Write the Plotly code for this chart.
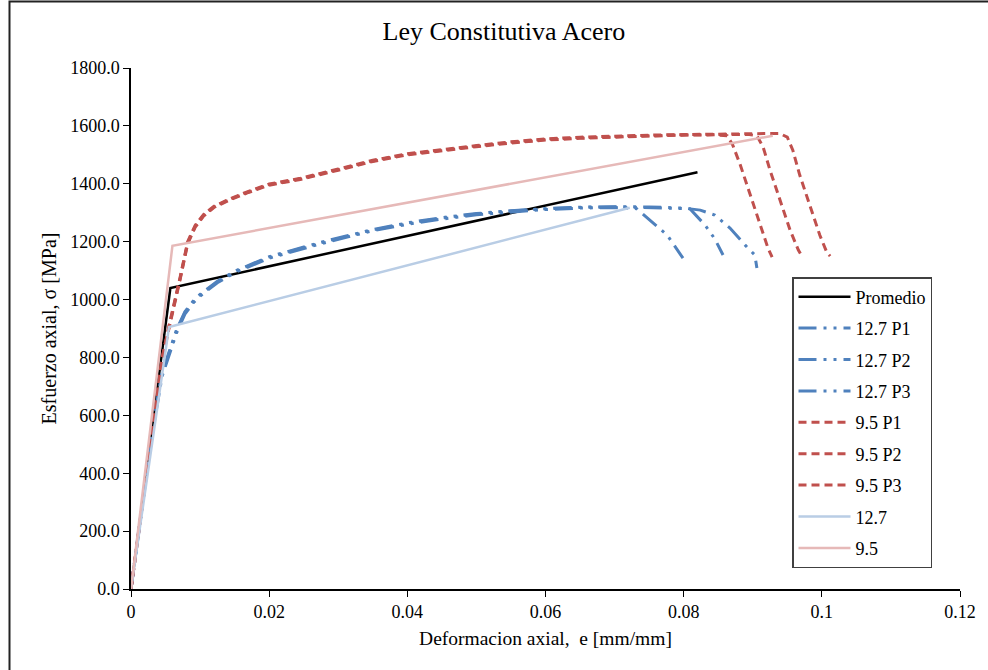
import plotly.graph_objects as go

# ---- Tensile test curves (strain in mm/mm, stress in MPa) ----
# Bilinear average / design laws
prom_e = [0.0, 0.0057, 0.0820]
prom_s = [0.0, 1040.0, 1440.0]

law127_e = [0.0, 0.0055, 0.0722]
law127_s = [0.0, 905.0, 1317.0]

law95_e = [0.0, 0.0060, 0.0929]
law95_s = [0.0, 1186.0, 1566.0]

# 12.7 mm bars
b1_e = [0.0, 0.0015, 0.003, 0.0045, 0.0056, 0.0066, 0.0078, 0.009, 0.010, 0.0125, 0.0153,
        0.020, 0.0275, 0.035, 0.040, 0.045, 0.050, 0.055, 0.060, 0.065, 0.070, 0.0732,
        0.0751, 0.0776, 0.0799]
b1_s = [0.0, 262.0, 525.0, 735.0, 812.0, 885.0, 950.0, 988.0, 1012.0, 1058.0, 1096.0,
        1143.0, 1193.0, 1238.0, 1260.0, 1278.0, 1293.0, 1303.0, 1311.0, 1316.0, 1318.0, 1314.0,
        1275.0, 1223.0, 1143.0]

b2_e = [0.0, 0.0015, 0.003, 0.0045, 0.0056, 0.0066, 0.0078, 0.009, 0.010, 0.0125, 0.0153,
        0.020, 0.0275, 0.035, 0.040, 0.045, 0.050, 0.055, 0.060, 0.065, 0.070, 0.075,
        0.0809, 0.0831, 0.0845, 0.0857]
b2_s = [0.0, 268.0, 535.0, 742.0, 818.0, 892.0, 955.0, 992.0, 1016.0, 1061.0, 1099.0,
        1146.0, 1196.0, 1240.0, 1263.0, 1281.0, 1296.0, 1306.0, 1313.0, 1318.0, 1320.0, 1318.0,
        1314.0, 1257.0, 1210.0, 1154.0]

b3_e = [0.0, 0.0015, 0.003, 0.0045, 0.0056, 0.0066, 0.0078, 0.009, 0.010, 0.0125, 0.0153,
        0.020, 0.0275, 0.035, 0.040, 0.045, 0.050, 0.055, 0.060, 0.065, 0.070, 0.075,
        0.0800, 0.0824, 0.0845, 0.0867, 0.0889, 0.0903, 0.0906]
b3_s = [0.0, 275.0, 545.0, 748.0, 822.0, 896.0, 958.0, 995.0, 1018.0, 1063.0, 1101.0,
        1148.0, 1198.0, 1242.0, 1265.0, 1283.0, 1297.0, 1307.0, 1314.0, 1319.0, 1321.0, 1320.0,
        1316.0, 1309.0, 1292.0, 1247.0, 1188.0, 1154.0, 1109.0]

# 9.5 mm bars
r1_e = [0.0, 0.0015, 0.003, 0.0045, 0.0055, 0.0062, 0.0071, 0.0082, 0.0093, 0.0105, 0.012,
        0.0143, 0.017, 0.020, 0.0245, 0.030, 0.035, 0.040, 0.045, 0.050, 0.055, 0.060,
        0.065, 0.070, 0.075, 0.080, 0.0845, 0.0863, 0.0871, 0.0882, 0.0896, 0.0911,
        0.0922, 0.0928]
r1_s = [0.0, 262.0, 528.0, 790.0, 900.0, 972.0, 1068.0, 1192.0, 1250.0, 1288.0, 1318.0,
        1344.0, 1370.0, 1395.0, 1415.0, 1447.0, 1477.0, 1500.0, 1515.0, 1528.0, 1541.0, 1551.0,
        1557.0, 1562.0, 1565.0, 1568.0, 1569.0, 1566.0, 1534.0, 1465.0, 1361.0, 1257.0,
        1178.0, 1147.0]

r2_e = [0.0, 0.0015, 0.003, 0.0045, 0.0055, 0.0062, 0.0071, 0.0082, 0.0093, 0.0105, 0.012,
        0.0143, 0.017, 0.020, 0.0245, 0.030, 0.035, 0.040, 0.045, 0.050, 0.055, 0.060,
        0.065, 0.070, 0.075, 0.080, 0.085, 0.0895, 0.0906, 0.0915, 0.0925, 0.0940,
        0.0954, 0.0966, 0.0971]
r2_s = [0.0, 265.0, 532.0, 795.0, 905.0, 976.0, 1072.0, 1196.0, 1254.0, 1291.0, 1320.0,
        1346.0, 1372.0, 1397.0, 1417.0, 1449.0, 1479.0, 1502.0, 1517.0, 1530.0, 1543.0, 1553.0,
        1559.0, 1563.0, 1566.0, 1569.0, 1570.0, 1570.0, 1566.0, 1527.0, 1447.0, 1344.0,
        1240.0, 1171.0, 1150.0]

r3_e = [0.0, 0.0015, 0.003, 0.0045, 0.0055, 0.0062, 0.0071, 0.0082, 0.0093, 0.0105, 0.012,
        0.0143, 0.017, 0.020, 0.0245, 0.030, 0.035, 0.040, 0.045, 0.050, 0.055, 0.060,
        0.065, 0.070, 0.075, 0.080, 0.085, 0.090, 0.0939, 0.0950, 0.0958, 0.0968, 0.0983,
        0.0997, 0.1007, 0.1012]
r3_s = [0.0, 268.0, 536.0, 798.0, 910.0, 980.0, 1076.0, 1200.0, 1257.0, 1294.0, 1322.0,
        1348.0, 1374.0, 1399.0, 1419.0, 1451.0, 1481.0, 1504.0, 1519.0, 1532.0, 1545.0, 1555.0,
        1561.0, 1565.0, 1568.0, 1570.0, 1571.0, 1572.0, 1574.0, 1561.0, 1516.0, 1430.0, 1326.0,
        1223.0, 1164.0, 1150.0]

x_ticks = [0, 0.02, 0.04, 0.06, 0.08, 0.1, 0.12]
y_ticks = [0, 200, 400, 600, 800, 1000, 1200, 1400, 1600, 1800]

BLUE = "#4F81BD"
RED = "#C0504D"
LIGHT_BLUE = "#B9CDE5"
LIGHT_RED = "#E6B9B8"
SERIF = "Liberation Serif, Times New Roman, serif"

blue_dash = "18px,7px,3px,7px,3px,7px"
red_dash = "8px,5px"

fig = go.Figure()

series = [
    ("Promedio", prom_e, prom_s, dict(color="black", width=2.5)),
    ("12.7 P1", b1_e, b1_s, dict(color=BLUE, width=3, dash=blue_dash)),
    ("12.7 P2", b2_e, b2_s, dict(color=BLUE, width=3, dash=blue_dash)),
    ("12.7 P3", b3_e, b3_s, dict(color=BLUE, width=3, dash=blue_dash)),
    ("9.5 P1", r1_e, r1_s, dict(color=RED, width=3, dash=red_dash)),
    ("9.5 P2", r2_e, r2_s, dict(color=RED, width=3, dash=red_dash)),
    ("9.5 P3", r3_e, r3_s, dict(color=RED, width=3, dash=red_dash)),
    ("12.7", law127_e, law127_s, dict(color=LIGHT_BLUE, width=2.5)),
    ("9.5", law95_e, law95_s, dict(color=LIGHT_RED, width=2.5)),
]

for i, (name, xe, ys, line) in enumerate(series):
    fig.add_trace(go.Scatter(x=xe, y=ys, name=name, mode="lines", line=line,
                             legendgroup=f"g{i}"))

W, H = 988, 670
ML, MR, MT, MB = 131, 28, 68, 81
pw, ph = W - ML - MR, H - MT - MB

def px_x(p):
    return (p - ML) / pw

def px_y(p):
    return (H - MB - p) / ph

fig.update_layout(
    width=W, height=H, autosize=False,
    margin=dict(l=ML, r=MR, t=MT, b=MB, pad=0),
    paper_bgcolor="white", plot_bgcolor="white",
    font=dict(family=SERIF, size=18, color="black"),
    title=dict(text="Ley Constitutiva Acero", font=dict(family=SERIF, size=26, color="black"),
               xref="container", x=0.51, xanchor="center",
               yref="container", y=1 - 31 / H, yanchor="middle"),
    xaxis=dict(range=[0, 0.12], tickvals=x_ticks, ticktext=[f"{v:g}" for v in x_ticks],
               showgrid=False, zeroline=False, showline=True, linecolor="black", linewidth=1.5,
               ticks="outside", ticklen=6, tickcolor="black", tickwidth=1,
               tickfont=dict(family=SERIF, size=18),
               title=dict(text="Deformacion axial,  e [mm/mm]",
                          font=dict(family=SERIF, size=19.5), standoff=10)),
    yaxis=dict(range=[0, 1800], tickvals=y_ticks, ticktext=[f"{v:.1f}" for v in y_ticks],
               showgrid=False, zeroline=False, showline=True, linecolor="black", linewidth=1.5,
               ticks="outside", ticklen=6, tickcolor="black", tickwidth=1,
               tickfont=dict(family=SERIF, size=18),
               title=dict(text="Esfuerzo axial, σ [MPa]",
                          font=dict(family=SERIF, size=20), standoff=8)),
    legend=dict(x=px_x(792), y=px_y(277), xanchor="left", yanchor="top",
                bgcolor="white", bordercolor="#404040", borderwidth=1.5,
                font=dict(family=SERIF, size=18), tracegroupgap=5,
                itemwidth=52),
    showlegend=True,
    shapes=[dict(type="rect", xref="paper", yref="paper",
                 x0=px_x(9.5), x1=px_x(1000), y0=px_y(680), y1=px_y(1.5),
                 line=dict(color="#222222", width=2), fillcolor="rgba(0,0,0,0)",
                 layer="above")],
)

fig.write_html("out.html")
